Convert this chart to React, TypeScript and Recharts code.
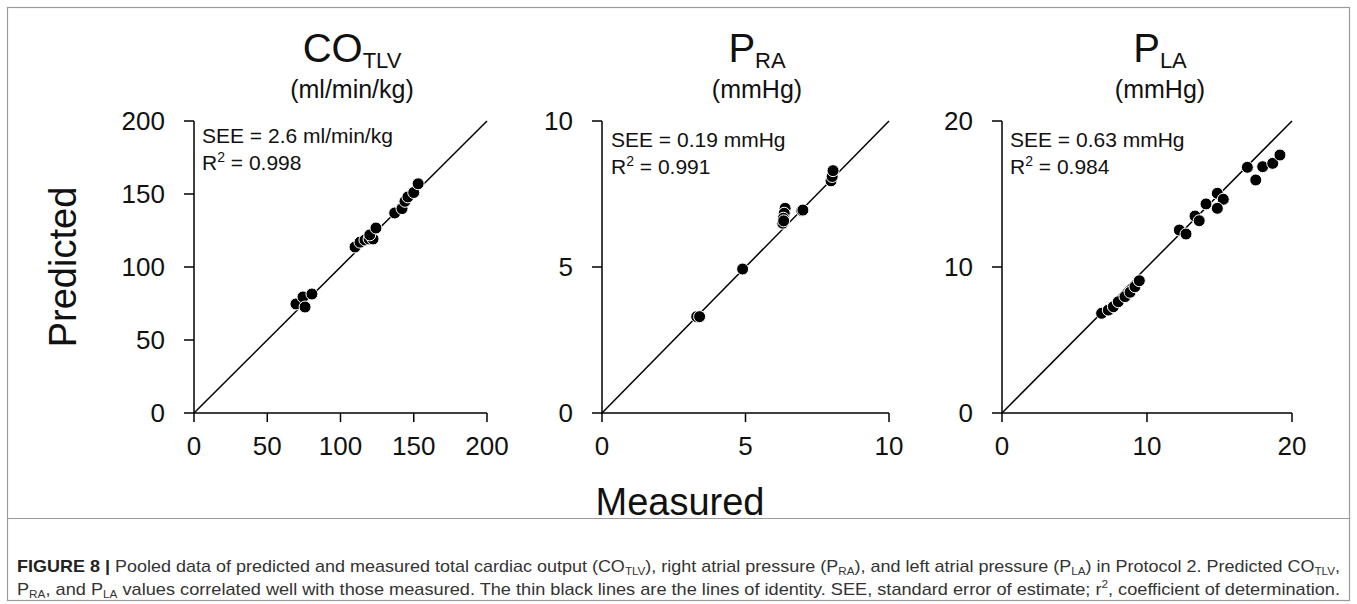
import { ScatterChart, Scatter, XAxis, YAxis, ReferenceLine } from 'recharts';

// CO_TLV (ml/min/kg)
const coMeasured = [69.6, 74.4, 75.8, 80.5, 109.9, 113.3, 116.7, 119.5, 122.2, 120.0, 124.2, 137, 142, 144, 146, 150, 153];
const coPredicted = [74.7, 79.5, 72.6, 81.5, 113.7, 117.0, 118.5, 119.2, 119.2, 122.0, 126.7, 137, 140, 145, 148, 151, 157];
const coTicks = [0, 50, 100, 150, 200];

// P_RA (mmHg)
const praMeasured = [3.3, 3.4, 4.9, 6.38, 6.35, 6.32, 6.3, 6.33, 6.96, 7.0, 7.98, 8.02, 8.05];
const praPredicted = [3.3, 3.3, 4.93, 7.01, 6.84, 6.67, 6.5, 6.58, 6.93, 6.95, 7.95, 8.1, 8.3];
const praTicks = [0, 5, 10];

// P_LA (mmHg)
const plaMeasured = [6.87, 7.33, 7.68, 8.02, 8.48, 8.83, 9.17, 9.47, 12.23, 12.69, 13.31, 13.6, 14.07, 14.85, 15.26, 14.85, 16.92, 17.5, 17.98, 18.67, 19.17];
const plaPredicted = [6.83, 7.05, 7.28, 7.62, 7.97, 8.27, 8.65, 9.06, 12.53, 12.26, 13.49, 13.17, 14.32, 15.05, 14.64, 14.02, 16.83, 15.96, 16.87, 17.1, 17.67];
const plaTicks = [0, 10, 20];

const FONT = '"Liberation Sans", Arial, sans-serif';
const tickStyle = { fontSize: 26, fill: '#111', fontFamily: FONT };

const dot = (props: any) => (
  <circle cx={props.cx} cy={props.cy} r={6} fill="#000" stroke="#fff" strokeWidth={1} />
);

interface PanelProps {
  measured: number[];
  predicted: number[];
  ticks: number[];
  left: number;
  width: number;
  marginLeft: number;
  marginRight: number;
}

function Panel({ measured, predicted, ticks, left, width, marginLeft, marginRight }: PanelProps) {
  const data = measured.map((m, i) => ({ x: m, y: predicted[i] }));
  const max = ticks[ticks.length - 1];
  return (
    <div style={{ position: 'absolute', left, top: 0 }}>
      <ScatterChart
        width={width}
        height={480}
        margin={{ top: 121, right: marginRight, bottom: 17, left: marginLeft }}
      >
        <XAxis
          type="number"
          dataKey="x"
          domain={[0, max]}
          ticks={ticks}
          height={50}
          tickSize={9}
          tickMargin={15}
          stroke="#000"
          strokeWidth={1.5}
          tick={tickStyle}
        />
        <YAxis
          type="number"
          dataKey="y"
          domain={[0, max]}
          ticks={ticks}
          width={60}
          tickSize={10}
          tickMargin={19}
          stroke="#000"
          strokeWidth={1.5}
          tick={tickStyle}
        />
        <ReferenceLine
          segment={[
            { x: 0, y: 0 },
            { x: max, y: max },
          ]}
          stroke="#000"
          strokeWidth={1.5}
        />
        <Scatter data={data} shape={dot} isAnimationActive={false} />
      </ScatterChart>
    </div>
  );
}

function Title({ x, main, sub, unit }: { x: number; main: string; sub: string; unit: string }) {
  return (
    <g fontFamily={FONT} fill="#111">
      <text x={x} y={62} textAnchor="middle" fontSize={40}>
        {main}
        <tspan fontSize={22} dy={6}>
          {sub}
        </tspan>
      </text>
      <text x={x} y={98} textAnchor="middle" fontSize={25}>
        {unit}
      </text>
    </g>
  );
}

function Stats({ x, y, see, r2 }: { x: number; y: number; see: string; r2: string }) {
  return (
    <g fontFamily={FONT} fill="#111" fontSize={21}>
      <text x={x} y={y}>
        SEE = {see}
      </text>
      <text x={x} y={y + 27}>
        R<tspan fontSize={14} dy={-8}>2</tspan>
        <tspan dy={8}> = {r2}</tspan>
      </text>
    </g>
  );
}

export default function App() {
  return (
    <div
      style={{
        position: 'absolute',
        left: 0,
        top: 0,
        width: 1357,
        height: 604,
        background: '#fff',
        fontFamily: FONT,
      }}
    >
      <Panel measured={coMeasured} predicted={coPredicted} ticks={coTicks} left={0} width={520} marginLeft={134} marginRight={33} />
      <Panel measured={praMeasured} predicted={praPredicted} ticks={praTicks} left={520} width={400} marginLeft={22} marginRight={31} />
      <Panel measured={plaMeasured} predicted={plaPredicted} ticks={plaTicks} left={920} width={437} marginLeft={22} marginRight={65} />
      <svg
        width={1357}
        height={604}
        style={{ position: 'absolute', left: 0, top: 0, pointerEvents: 'none' }}
      >
        <rect x={7.5} y={7.5} width={1342} height={593} fill="none" stroke="#9a9a9a" strokeWidth={1.2} />
        <line x1={7.5} x2={1349.5} y1={518.5} y2={518.5} stroke="#9a9a9a" strokeWidth={1.2} />

        <Title x={352} main="CO" sub="TLV" unit="(ml/min/kg)" />
        <Title x={757} main="P" sub="RA" unit="(mmHg)" />
        <Title x={1160} main="P" sub="LA" unit="(mmHg)" />

        <Stats x={202} y={143} see="2.6 ml/min/kg" r2="0.998" />
        <Stats x={611} y={147} see="0.19 mmHg" r2="0.991" />
        <Stats x={1010} y={147} see="0.63 mmHg" r2="0.984" />

        <text
          x={76}
          y={267}
          transform="rotate(-90 76 267)"
          textAnchor="middle"
          fontSize={38}
          fontFamily={FONT}
          fill="#111"
        >
          Predicted
        </text>
        <text x={680} y={515} textAnchor="middle" fontSize={38} fontFamily={FONT} fill="#111">
          Measured
        </text>

        <g fontFamily={FONT} fontSize={17} fill="#333">
          <text x={17} y={572} textLength={1323} lengthAdjust="spacingAndGlyphs">
            <tspan fontWeight="bold" fill="#222">FIGURE 8 | </tspan>
            Pooled data of predicted and measured total cardiac output (CO
            <tspan fontSize={11} dy={3}>TLV</tspan>
            <tspan dy={-3}>), right atrial pressure (P</tspan>
            <tspan fontSize={11} dy={3}>RA</tspan>
            <tspan dy={-3}>), and left atrial pressure (P</tspan>
            <tspan fontSize={11} dy={3}>LA</tspan>
            <tspan dy={-3}>) in Protocol 2. Predicted CO</tspan>
            <tspan fontSize={11} dy={3}>TLV</tspan>
            <tspan dy={-3}>,</tspan>
          </text>
          <text x={17} y={595} textLength={1323} lengthAdjust="spacingAndGlyphs">
            P<tspan fontSize={11} dy={3}>RA</tspan>
            <tspan dy={-3}>, and P</tspan>
            <tspan fontSize={11} dy={3}>LA</tspan>
            <tspan dy={-3}> values correlated well with those measured. The thin black lines are the lines of identity. SEE, standard error of estimate; r</tspan>
            <tspan fontSize={11} dy={-7}>2</tspan>
            <tspan dy={7}>, coefficient of determination.</tspan>
          </text>
        </g>
      </svg>
    </div>
  );
}
